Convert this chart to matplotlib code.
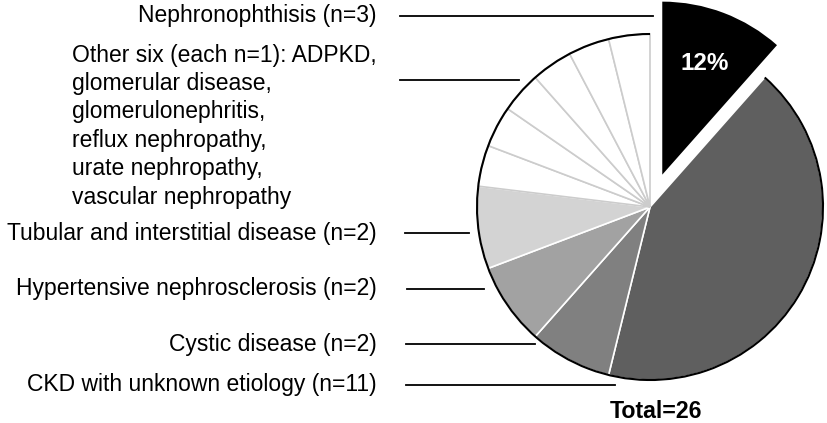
import numpy as np
import matplotlib
matplotlib.use("Agg")
import matplotlib.pyplot as plt
from matplotlib.patches import Arc

plt.rcParams['font.family'] = ['Liberation Sans', 'DejaVu Sans']

# slices, clockwise from 12 o'clock
categories = ["Nephronophthisis", "CKD with unknown etiology", "Cystic disease",
              "Hypertensive nephrosclerosis", "Tubular and interstitial disease",
              "ADPKD", "glomerular disease", "glomerulonephritis",
              "reflux nephropathy", "urate nephropathy", "vascular nephropathy"]
counts = [3, 11, 2, 2, 2, 1, 1, 1, 1, 1, 1]
colors = ["#000000", "#5f5f5f", "#808080", "#a2a2a2", "#d3d3d3",
          "white", "white", "white", "white", "white", "white"]
edges = ["none", "white", "white", "white", "white",
         "#cccccc", "#cccccc", "#cccccc", "#cccccc", "#cccccc", "#cccccc"]

label_texts = ["Nephronophthisis (n=3)",
               "Other six (each n=1): ADPKD,\nglomerular disease,\nglomerulonephritis,\n"
               "reflux nephropathy,\nurate nephropathy,\nvascular nephropathy",
               "Tubular and interstitial disease (n=2)",
               "Hypertensive nephrosclerosis (n=2)",
               "Cystic disease (n=2)",
               "CKD with unknown etiology (n=11)"]

W, H = 827, 423
# layout in pixels (top-left origin): label y, leader line start / end x
label_y = [15, 126, 233, 289, 344, 385]
line_x0 = [400, 400, 405, 407, 406, 406]
line_x1 = [653, 519, 469, 484, 535, 615]
line_y = [15.5, 80, 233, 289, 344, 385]

cx, cy, R = 650, H - 207, 173

fig = plt.figure(figsize=(W / 100, H / 100), dpi=100)
ax = fig.add_axes([0, 0, 1, 1])

# explode is in data units here, so scale by the radius
explode = [0.2 * R] + [0] * (len(counts) - 1)
wedges, _ = ax.pie(counts, colors=colors, startangle=90, counterclock=False,
                   explode=explode, center=(cx, cy), radius=R,
                   wedgeprops=dict(linewidth=1.2))
for w, ec in zip(wedges, edges):
    w.set_edgecolor(ec)

# black outline on the arc of the non-exploded part
t1 = min(w.theta1 for w in wedges[1:])
t2 = max(w.theta2 for w in wedges[1:])
ax.add_patch(Arc((cx, cy), 2 * R, 2 * R, theta1=t1, theta2=t2,
                 color="black", lw=1.5, zorder=5))

# percentage on the exploded slice
w0 = wedges[0]
mid = np.deg2rad((w0.theta1 + w0.theta2) / 2)
pct = round(counts[0] / sum(counts) * 100)
ax.text(w0.center[0] + 0.69 * R * np.cos(mid), w0.center[1] + 0.69 * R * np.sin(mid),
        f"{pct}%", color="white", fontsize=17.5, fontweight="bold",
        ha="center", va="center")

for txt, ly, x0, x1, yl in zip(label_texts, label_y, line_x0, line_x1, line_y):
    ax.text(377, H - ly, txt, fontsize=16.5, ha="right", va="center",
            multialignment="left", linespacing=1.3)
    ax.plot([x0, x1], [H - yl, H - yl], color="black", lw=1.3)

ax.text(656, H - 412, f"Total={sum(counts)}", fontsize=16.7, fontweight="bold",
        ha="center", va="center")

ax.set_xlim(0, W)
ax.set_ylim(0, H)
ax.set_aspect("equal")
ax.axis("off")
fig.savefig("out.png", dpi=100)
